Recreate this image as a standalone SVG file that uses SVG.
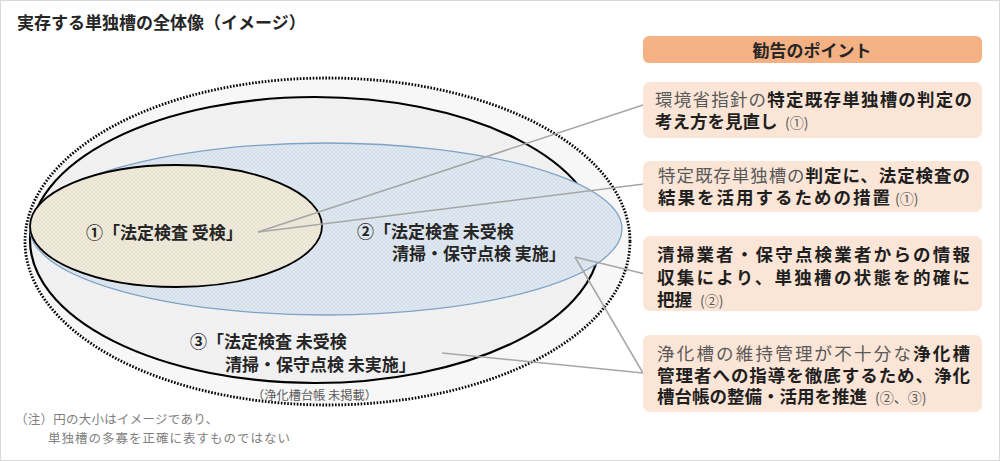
<svg xmlns="http://www.w3.org/2000/svg" width="1000" height="461" viewBox="0 0 1000 461">
<defs>
<pattern id="hBlue" width="4" height="4" patternUnits="userSpaceOnUse">
<rect width="4" height="4" fill="#dfe7f0"/>
<path d="M0 4L4 0M0 0L4 4" stroke="#cfdbe8" stroke-width="0.6"/>
</pattern>
<pattern id="hBeige" width="4" height="4" patternUnits="userSpaceOnUse">
<rect width="4" height="4" fill="#efeadb"/>
<path d="M0 4L4 0M0 0L4 4" stroke="#e4dfcd" stroke-width="0.6"/>
</pattern>
<pattern id="hGray" width="4" height="4" patternUnits="userSpaceOnUse">
<rect width="4" height="4" fill="#f3f3f4"/>
<path d="M0 4L4 0M0 0L4 4" stroke="#ebebed" stroke-width="0.6"/>
</pattern>
<style>
text{font-family:"Noto Sans CJK JP","Noto Sans CJK SC",sans-serif;}
.t{font-size:17px;font-weight:bold;fill:#262626;}
.lbl{font-size:17px;font-weight:bold;fill:#262626;}
.g{font-weight:normal;fill:#595959;}
.box{font-size:17.5px;font-weight:bold;fill:#1f1f1f;}
.par{font-size:14px;font-weight:normal;fill:#595959;}
.small{font-size:12px;fill:#595959;}
.note{font-size:12.5px;fill:#7f7f7f;}
.pt{fill:#fbe5d6;}
.conn{stroke:#a6a6a6;stroke-width:1.5;fill:none;}
</style>
</defs>
<rect x="0.5" y="0.5" width="999" height="460" fill="#ffffff" stroke="#d9d9d9"/>
<text class="t" x="17" y="29">実存する単独槽の全体像（イメージ）</text>

<g id="outer-dotted">
<ellipse cx="327.5" cy="241.5" rx="302.5" ry="163.5" fill="#f7f7f7" stroke="#000" stroke-width="2.8" stroke-dasharray="1.6 1.6"/>
</g>
<g id="region3">
<ellipse cx="315" cy="240" rx="285" ry="143" fill="url(#hGray)" stroke="#000" stroke-width="2.2"/>
</g>
<g id="region2">
<ellipse cx="326" cy="229" rx="296" ry="86" fill="url(#hBlue)" stroke="#7fa3c5" stroke-width="1.3"/>
</g>
<g id="region1">
<ellipse cx="176" cy="226" rx="146" ry="61" fill="url(#hBeige)" stroke="#000" stroke-width="1.8"/>
</g>

<g id="labels">
<text class="lbl" x="86" y="239">①「法定検査 受検」</text>
<text class="lbl" x="357" y="238">②「法定検査 未受検</text>
<text class="lbl" x="392" y="260">清掃・保守点検 実施」</text>
<text class="lbl" x="190" y="348">③「法定検査 未受検</text>
<text class="lbl" x="225" y="371">清掃・保守点検 未実施」</text>
<text class="small" x="252" y="400" textLength="125" lengthAdjust="spacingAndGlyphs">（浄化槽台帳 未掲載）</text>
</g>

<g id="connectors">
<line class="conn" x1="258" y1="232" x2="643" y2="105"/>
<line class="conn" x1="258" y1="232" x2="644" y2="184"/>
<line class="conn" x1="575" y1="257" x2="645" y2="274"/>
<line class="conn" x1="575" y1="257" x2="643" y2="373"/>
<line class="conn" x1="442" y1="353" x2="643" y2="373"/>
</g>

<g id="header">
<rect x="643" y="36" width="339" height="27" rx="6" fill="#f4b183"/>
<text class="t" x="812" y="57" text-anchor="middle">勧告のポイント</text>
</g>

<g id="point1">
<rect class="pt" x="643" y="82" width="339" height="56" rx="7"/>
<text class="box" x="655" y="106" textLength="317" lengthAdjust="spacing"><tspan class="g">環境省指針の</tspan>特定既存単独槽の判定の</text>
<text class="box" x="655" y="128">考え方を見直し</text>
<text class="par" x="785" y="128">(①)</text>
</g>

<g id="point2">
<rect class="pt" x="643" y="161" width="339" height="51" rx="7"/>
<text class="box" x="658" y="182" textLength="312" lengthAdjust="spacing"><tspan class="g">特定既存単独槽の</tspan>判定に、法定検査の</text>
<text class="box" x="658" y="204" textLength="232" lengthAdjust="spacing">結果を活用するための措置</text>
<text class="par" x="895" y="204">(①)</text>
</g>

<g id="point3">
<rect class="pt" x="643" y="236" width="339" height="75" rx="7"/>
<text class="box" x="657" y="261" textLength="313" lengthAdjust="spacing">清掃業者・保守点検業者からの情報</text>
<text class="box" x="657" y="284" textLength="313" lengthAdjust="spacing">収集により、単独槽の状態を的確に</text>
<text class="box" x="657" y="306">把握</text>
<text class="par" x="700" y="306">(②)</text>
</g>

<g id="point4">
<rect class="pt" x="643" y="335" width="339" height="77" rx="7"/>
<text class="box" x="657" y="360" textLength="313" lengthAdjust="spacing"><tspan class="g">浄化槽の維持管理が不十分な</tspan>浄化槽</text>
<text class="box" x="657" y="382" textLength="313" lengthAdjust="spacing">管理者への指導を徹底するため、浄化</text>
<text class="box" x="657" y="403">槽台帳の整備・活用を推進</text>
<text class="par" x="875" y="403">(②、③)</text>
</g>

<g id="note">
<text class="note" x="15" y="424" textLength="203" lengthAdjust="spacing">（注）円の大小はイメージであり、</text>
<text class="note" x="48" y="443" textLength="242" lengthAdjust="spacing">単独槽の多寡を正確に表すものではない</text>
</g>
</svg>
